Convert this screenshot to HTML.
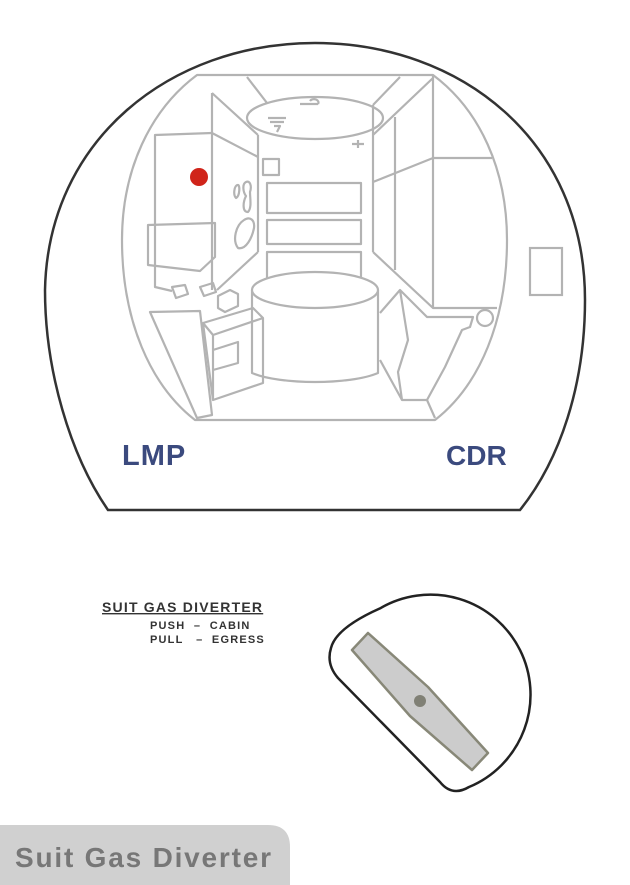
<!DOCTYPE html>
<html><head><style>
body{margin:0;width:630px;height:885px;background:#fff;overflow:hidden;font-family:"Liberation Sans",sans-serif}
svg{position:absolute;left:0;top:0}
</style></head><body>
<svg width="630" height="885" viewBox="0 0 630 885">
<path d="M108,510 C70,455 45,370 45,290 C48,140 170,43 315,43 C460,43 585,140 585,300 C585,385 560,460 520,510 Z" fill="none" stroke="#333" stroke-width="2.5"/>
<g fill="none" stroke="#b3b3b3" stroke-width="2.2" stroke-linejoin="round">
<path d="M197,75 L433,75 C480,110 507,170 507,240 C507,320 480,385 435,420 L195,420 C150,385 122,320 122,240 C122,170 150,110 197,75 Z"/>
<path d="M247,77 L267,103 M400,77 L373,105"/>
<ellipse cx="315" cy="118" rx="68" ry="21"/>
<path d="M433,75 L433,308 M373,105 L373,252 M395,117 L395,270 M433,78 L373,135 M373,182 L433,158 L492,158 M373,252 L433,308 L497,308"/>
<circle cx="485" cy="318" r="8"/>
<path d="M258,135 L258,252 M212,93 L258,135 M212,93 L212,290 M212,133 L258,157 M258,252 L217,290"/>
<path d="M212,133 L155,135 L155,287 L172,291"/>
<path d="M148,225 L215,223 L215,257 L200,271 L148,265 Z"/>
<rect x="263" y="159" width="16" height="16"/>
<rect x="267" y="183" width="94" height="30"/>
<rect x="267" y="220" width="94" height="24"/>
<path d="M267,282 L267,252 L361,252 L361,278"/>
<path d="M252,290 L252,373 C280,385 350,385 378,373 L378,290"/>
<ellipse cx="315" cy="290" rx="63" ry="18" fill="#fff"/>
<path d="M150,312 L200,311 L212,415 L197,418 Z"/>
<path d="M203,323 L253,308 L263,318 L263,383 L213,400 Z M203,323 L213,335 L263,318 M213,335 L213,400 M213,350 L238,342 L238,363 L213,370"/>
<path d="M400,290 L427,317 L473,317 L470,327 L462,330 L445,367 L427,400 L402,400 L398,372 L408,340 Z M380,313 L400,290 M380,360 L402,400 M427,400 L435,418"/>
<path d="M172,287 L185,285 L188,294 L176,298 Z M200,287 L213,283 L216,292 L204,296 Z M218,296 L230,290 L238,294 L238,306 L225,312 L218,308 Z"/>
<path d="M238,185 C234,185 233,195 236,198 C240,196 240,185 238,185 Z M246,182 C242,184 243,192 246,196 C243,202 242,212 248,212 C252,208 250,198 250,192 C252,186 250,180 246,182 Z M244,220 C236,225 232,240 238,248 C246,250 252,238 254,228 C255,220 250,216 244,220 Z"/>
<path d="M268,118 L286,118 M270,122 L284,122 M274,126 L280,126 L277,132 M300,104 L318,104 M310,101 A4 3 0 1 1 318,104 M358,140 L358,148 M352,144 L364,144"/>
</g>
<rect x="530" y="248" width="32" height="47" fill="none" stroke="#b3b3b3" stroke-width="2.2"/>
<circle cx="199" cy="177" r="9" fill="#d0241a"/>
<text x="122" y="465" font-size="29" font-weight="bold" fill="#3b4a7e" letter-spacing="1">LMP</text>
<text x="446" y="465" font-size="28" font-weight="bold" fill="#3b4a7e">CDR</text>
<text x="102" y="612" font-size="14" font-weight="bold" fill="#333" text-decoration="underline" letter-spacing="1.2">SUIT GAS DIVERTER</text>
<text x="150" y="629" font-size="11" font-weight="bold" fill="#333" letter-spacing="1.2" xml:space="preserve">PUSH  –  CABIN</text>
<text x="150" y="643" font-size="11" font-weight="bold" fill="#333" letter-spacing="1.2" xml:space="preserve">PULL   –  EGRESS</text>
<path d="M338,678 Q326,664 331,648 Q336,628 380,608.4 A100 100 0 1 1 469,787 Q452,797 440,782 Z" fill="none" stroke="#222" stroke-width="2.5" stroke-linejoin="round"/>
<path d="M368,633 L352,650 L410,716 L472,770 L488,753 L428,687 Z" fill="#cccccc" stroke="#888878" stroke-width="2.5" stroke-linejoin="round"/>
<circle cx="420" cy="701" r="6" fill="#808075"/>
<path d="M0,825 L268,825 Q290,825 290,847 L290,885 L0,885 Z" fill="#d0d0d0"/>
<text x="15" y="867" font-size="28" font-weight="bold" fill="#777" letter-spacing="1.8">Suit Gas Diverter</text>
</svg>
</body></html>
